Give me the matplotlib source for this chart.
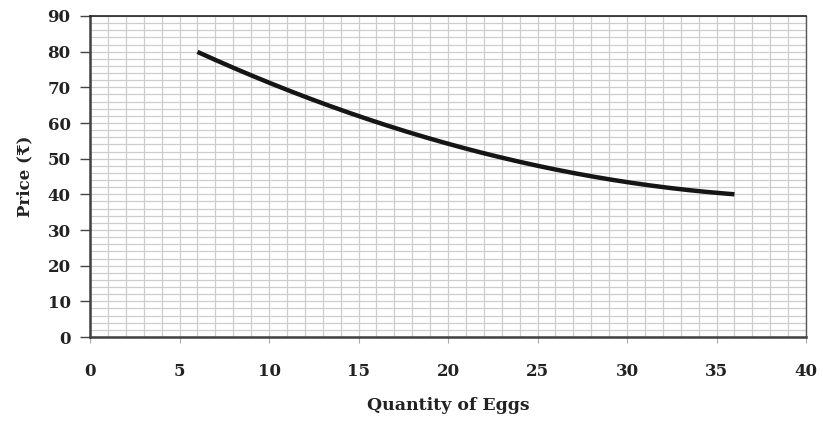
import matplotlib
matplotlib.use("Agg")
import matplotlib.pyplot as plt
import numpy as np
from matplotlib.ticker import MultipleLocator

# demand schedule
quantity = [6, 10, 16, 24, 36]
price = [80, 70, 60, 50, 40]

x_ticks = [0, 5, 10, 15, 20, 25, 30, 35, 40]
y_ticks = [0, 10, 20, 30, 40, 50, 60, 70, 80, 90]

plt.rcParams["font.family"] = ["DejaVu Serif", "DejaVu Sans"]

fig = plt.figure(figsize=(8.23, 4.21), dpi=100)
ax = fig.add_axes([0.1094, 0.1995, 0.8700, 0.7625])

# smooth curve through the schedule (endpoints weighted so the curve hits them)
coef = np.polyfit(quantity, price, 2, w=[4, 1, 1, 1, 4])
qs = np.linspace(quantity[0], quantity[-1], 200)
ax.plot(qs, np.polyval(coef, qs), color="#151515", lw=3.2, solid_capstyle="butt", zorder=3)

ax.set_xlim(0, 40)
ax.set_ylim(0, 90)
ax.set_xticks(x_ticks)
ax.set_yticks(y_ticks)
ax.xaxis.set_minor_locator(MultipleLocator(1))
ax.yaxis.set_minor_locator(MultipleLocator(2))
ax.grid(which="both", color="#cdcdcd", lw=0.9, zorder=0)
ax.set_axisbelow(True)

ax.tick_params(axis="y", which="major", length=7, width=1.0, color="#444444",
               pad=7, labelsize=12, labelcolor="#222222")
ax.tick_params(axis="x", which="major", length=4, width=0.8, color="#aaaaaa",
               pad=15, labelsize=12, labelcolor="#222222")
ax.tick_params(which="minor", length=0)
for lab in ax.get_xticklabels() + ax.get_yticklabels():
    lab.set_fontweight("bold")

for side in ["left", "bottom"]:
    ax.spines[side].set_color("#404040")
    ax.spines[side].set_linewidth(1.8)
ax.spines["top"].set_color("#222222")
ax.spines["top"].set_linewidth(1.2)
ax.spines["right"].set_color("#555555")
ax.spines["right"].set_linewidth(1.0)

ax.set_xlabel("Quantity of Eggs", fontsize=12.5, fontweight="bold", color="#222222", labelpad=12)
ax.set_ylabel("Price (₹)", fontsize=12, fontweight="bold", color="#222222", labelpad=10)

fig.savefig("out.png", dpi=100)
